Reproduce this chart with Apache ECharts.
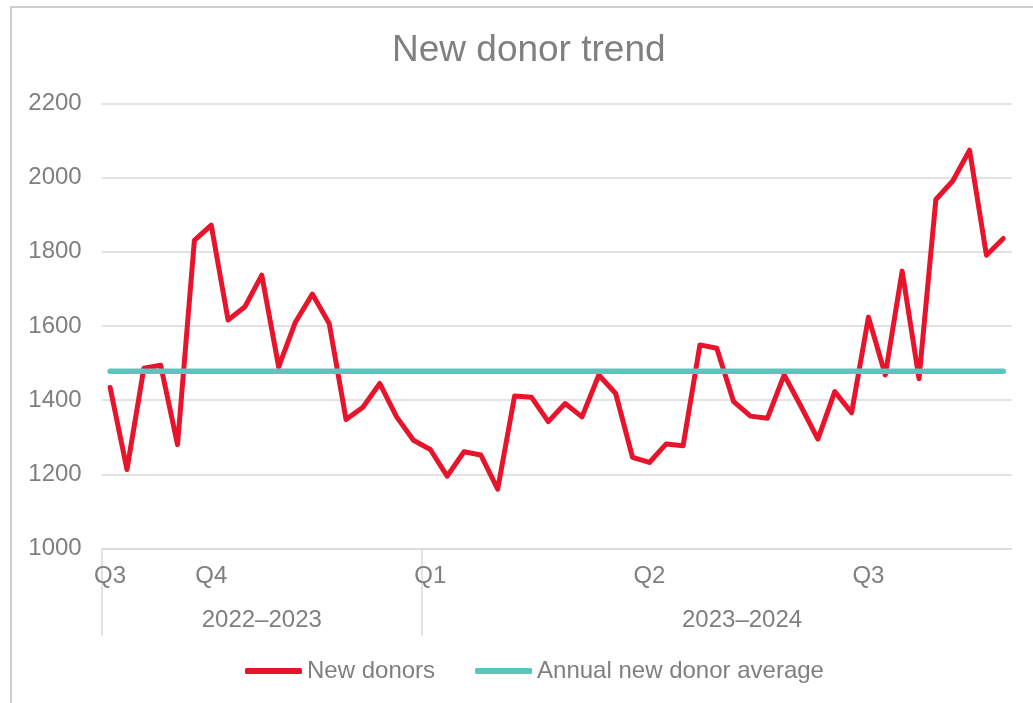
<!DOCTYPE html>
<html>
<head>
<meta charset="utf-8">
<title>New donor trend</title>
<script src="https://cdn.jsdelivr.net/npm/echarts@6/dist/echarts.min.js"></script>
<style>
  html, body { margin: 0; padding: 0; background: #fff; }
  #chart { width: 1033px; height: 703px; }
</style>
</head>
<body>
<div id="chart"></div>
<script>
// weekly new donors
var newDonors = [1434, 1213, 1486, 1494, 1280, 1831, 1872, 1616, 1652, 1737,
  1490, 1611, 1686, 1607, 1348, 1381, 1445, 1355, 1292, 1267,
  1195, 1261, 1252, 1160, 1411, 1408, 1342, 1391, 1355, 1468,
  1418, 1246, 1232, 1282, 1277, 1549, 1540, 1396, 1357, 1351,
  1468, 1383, 1295, 1423, 1366, 1624, 1468, 1748, 1458, 1941,
  1991, 2074, 1791, 1836]
var annualAverage = 1478

var weeks = newDonors.map(function (d, i) { return 'W' + (i + 1) })
var quarterStarts = [0, 6, 19, 32, 45]
var quarterLabels = ['Q3', 'Q4', 'Q1', 'Q2', 'Q3']
var yearBreaks = [0, 19]       // week boundaries where a financial year starts
var yearLabels = ['2022–2023', '2023–2024']
var yearLabelPos = [9.5, 38]   // in week units from the left edge

var textColor = '#7f7f7f'
var gridColor = '#d9d9d9'
var font = '"Liberation Sans", Arial, sans-serif'

var chart = echarts.init(document.getElementById('chart'))
chart.setOption({
  animation: false,
  backgroundColor: '#fff',
  textStyle: { fontFamily: font },
  graphic: [{
    type: 'rect',
    shape: { x: 11, y: 7, width: 1100, height: 800 },
    style: { fill: 'none', stroke: '#bfbfbf', lineWidth: 1.5 },
    silent: true
  }],
  title: {
    text: 'New donor trend',
    left: 392,
    top: 32,
    padding: 0,
    textStyle: { fontSize: 37, fontWeight: 'normal', color: '#808080', fontFamily: font }
  },
  legend: {
    left: 245,
    top: 659,
    padding: 0,
    itemGap: 40,
    itemWidth: 57,
    itemHeight: 6,
    icon: 'roundRect',
    textStyle: { fontSize: 24, color: textColor, fontFamily: font },
    data: ['New donors', 'Annual new donor average']
  },
  grid: { left: 101.7, right: 21.3, top: 103.5, bottom: 154.5 },
  xAxis: [{
    type: 'category',
    data: weeks,
    boundaryGap: true,
    axisLine: { lineStyle: { color: gridColor, width: 1.5 } },
    axisTick: { show: false },
    axisLabel: {
      interval: function (i) { return quarterStarts.indexOf(i) >= 0 },
      formatter: function (v, i) { return quarterLabels[quarterStarts.indexOf(i)] },
      margin: 16,
      fontSize: 24,
      color: textColor
    }
  }, {
    type: 'value',
    position: 'bottom',
    min: 0,
    max: 54,
    axisLine: { show: false },
    axisTick: {
      show: true,
      customValues: yearBreaks,
      length: 87,
      lineStyle: { color: gridColor, width: 1.5 }
    },
    splitLine: { show: false },
    axisLabel: {
      customValues: yearLabelPos,
      formatter: function (v) { return yearLabels[yearLabelPos.indexOf(v)] },
      margin: 60,
      fontSize: 24,
      color: textColor
    }
  }],
  yAxis: {
    type: 'value',
    min: 1000,
    max: 2200,
    interval: 200,
    axisLine: { show: false },
    axisTick: { show: false },
    splitLine: { lineStyle: { color: gridColor, width: 1.5 } },
    axisLabel: {
      fontSize: 24,
      color: textColor,
      margin: 20,
      formatter: function (v) { return String(v) }
    }
  },
  series: [{
    name: 'New donors',
    type: 'line',
    data: newDonors,
    showSymbol: false,
    symbol: 'none',
    color: '#e8142b',
    lineStyle: { color: '#e8142b', width: 5, join: 'round', cap: 'round' }
  }, {
    name: 'Annual new donor average',
    type: 'line',
    data: weeks.map(function () { return annualAverage }),
    showSymbol: false,
    symbol: 'none',
    color: '#5bc5bd',
    lineStyle: { color: '#5bc5bd', width: 5.5, cap: 'round' }
  }]
})
</script>
</body>
</html>
